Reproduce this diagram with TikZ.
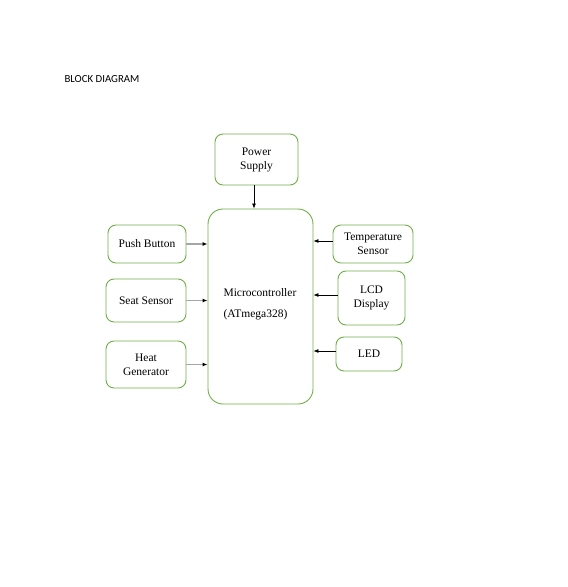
\documentclass[tikz,border=0pt]{standalone}
\usepackage{fontspec}
\setmainfont{Liberation Serif}
\newfontfamily\titlefont{Carlito}
\usetikzlibrary{arrows.meta}
\usetikzlibrary{positioning}
\definecolor{boxgreen}{RGB}{112,173,71}

\begin{document}
\begin{tikzpicture}[x=1pt, y=-1pt, >={Latex[length=5pt,width=4pt]},
  blk/.style={draw=boxgreen, line width=0.9pt, rounded corners=8pt, align=center,
    inner sep=0pt, font=\fontsize{11.5}{14}\selectfont},
  arr/.style={->, line width=0.7pt},
  garr/.style={-{Latex[length=5pt,width=4pt,black]}, draw=black!35, line width=1.2pt}]
\useasboundingbox (0, 0) rectangle (568, 587);
% title
\node[anchor=west, font=\titlefont\fontsize{10.8}{13}\selectfont] (title) at (61, 79) {BLOCK DIAGRAM};

% controller
\node[blk, rounded corners=15pt, minimum width=105pt, minimum height=195pt] (mcu) at (260.5, 306.5) {};
\node[anchor=west, font=\fontsize{11.5}{14}\selectfont] (mcuname) at (220, 293) {Microcontroller};
\node[anchor=west, font=\fontsize{11.5}{14}\selectfont] (mcutype) at (220, 315) {(ATmega328)};

% inputs and outputs
\node[blk, minimum width=83pt, minimum height=51pt] (ps) at (256.5, 159.5) {Power\\Supply};
\node[blk, minimum width=78pt, minimum height=38pt] (pb) at (147, 244) {Push Button};
\node[blk, minimum width=80pt, minimum height=43pt] (ss) at (146, 300.5) {Seat Sensor};
\node[blk, minimum width=80pt, minimum height=47pt] (hg) at (146, 364.5) {Heat\\Generator};
\node[blk, minimum width=80pt, minimum height=38pt] (ts) at (373, 244) {Temperature\\Sensor};
\node[blk, minimum width=67pt, minimum height=54pt] (lcd) at (371.5, 298) {LCD\\Display};
\node[blk, minimum width=66pt, minimum height=34pt] (led) at (369, 354) {LED};

% connections
\draw[arr] ([xshift=-2.5pt]ps.south) -- ([xshift=-2.5pt]ps.south |- mcu.north);
\foreach \n in {pb, ss, hg} {
  \draw[garr] (\n.east) -- (\n.east -| mcu.west);
}
\foreach \n in {ts, lcd, led} {
  \draw[arr] ([yshift=3pt]\n.west) -- ([yshift=3pt]\n.west -| mcu.east);
}
\end{tikzpicture}
\end{document}
